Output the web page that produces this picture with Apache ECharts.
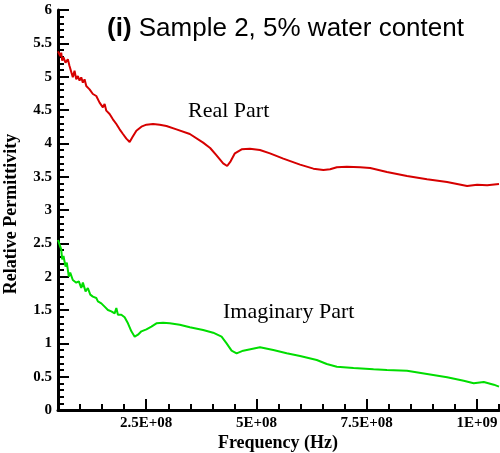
<!DOCTYPE html>
<html>
<head>
<meta charset="utf-8">
<script src="https://cdn.jsdelivr.net/npm/echarts@6/dist/echarts.min.js"></script>
<style>html,body{margin:0;padding:0;background:#fff}#c{width:500px;height:453px}</style>
</head>
<body>
<div id="c"></div>
<script>
// Frequency in MHz (axis labels shown in Hz)
const realFreq = [50,55.0,57.3,59.5,62.5,67.0,72.3,76.1,80.0,83.6,87.5,91.4,95.0,98.9,102.7,106.4,110.2,114.1,121.6,129.1,136.8,144.3,148.2,151.8,155.7,159.5,167.0,174.5,182.3,189.8,197.3,205.0,212.5,218.6,227.7,239.1,250.5,265.5,280.7,295.9,318.6,348.9,379.1,395,409.5,424.5,433.6,441.4,451.1,466.4,485.2,507.9,530.7,560.9,598.9,629.1,651.8,667.0,682.3,705.0,735.2,757.9,795.9,841.4,886.8,932.3,977.7,1000.4,1023.2,1050];
const realVal  = [5.38,5.31,5.36,5.24,5.29,5.21,5.26,5.16,5.19,4.99,5.09,4.96,5.01,4.94,4.99,4.91,4.96,4.86,4.81,4.74,4.71,4.61,4.64,4.54,4.59,4.49,4.44,4.36,4.29,4.21,4.14,4.07,4.02,4.09,4.19,4.25,4.28,4.29,4.28,4.26,4.21,4.14,4.01,3.93,3.82,3.70,3.66,3.73,3.85,3.91,3.92,3.90,3.85,3.77,3.68,3.62,3.60,3.61,3.64,3.65,3.64,3.63,3.57,3.51,3.46,3.42,3.36,3.38,3.37,3.39];
const imagFreq = [50,57.3,59.5,62.5,67.0,70.0,74.5,77.7,83.6,91.4,97.3,102.7,106.4,112.5,117.7,123.2,129.1,136.8,140.5,148.2,155.7,163.2,170.9,178.4,182.3,185.9,193.6,201.1,208.6,216.4,223.9,231.4,239.1,250.5,261.8,273.2,288.2,303.4,326.1,348.9,379.1,401.8,420.9,432.3,443.6,455.0,470.0,508.0,538.2,568.6,598.9,636.8,659.5,682.3,720.0,765.5,795.9,841.4,886.8,932.3,970.0,992.7,1015.5,1038.2,1050];
const imagVal  = [2.55,2.41,2.26,2.31,2.15,2.21,2.00,2.06,1.95,1.91,1.93,1.83,1.91,1.78,1.83,1.73,1.70,1.68,1.63,1.60,1.55,1.50,1.48,1.45,1.53,1.43,1.43,1.39,1.30,1.18,1.10,1.13,1.18,1.21,1.25,1.30,1.31,1.30,1.28,1.24,1.20,1.16,1.10,1.00,0.89,0.85,0.89,0.94,0.90,0.85,0.81,0.75,0.69,0.65,0.63,0.61,0.60,0.59,0.54,0.49,0.44,0.40,0.42,0.38,0.35];
const xMajorTicks = [250,500,750,1000];
const xTickLabels = ['2.5E+08','5E+08','7.5E+08','1E+09'];
const yMinorTicks = [0.1,0.2,0.3,0.4,0.6,0.7,0.8,0.9,1.1,1.2,1.3,1.4,1.6,1.7,1.8,1.9,2.1,2.2,2.3,2.4,2.6,2.7,2.8,2.9,3.1,3.2,3.3,3.4,3.6,3.7,3.8,3.9,4.1,4.2,4.3,4.4,4.6,4.7,4.8,4.9,5.1,5.2,5.3,5.4,5.6,5.7,5.8,5.9];
const titleText = 'Sample 2, 5% water content';
const seriesNames = ['Real Part','Imaginary Part'];
const axisNames = ['Frequency (Hz)','Relative Permittivity'];

function xLabel(v){
  const i = xMajorTicks.indexOf(v);
  return i >= 0 ? xTickLabels[i] : '';
}
const serif = 'Liberation Serif, Times New Roman, serif';
const axisFont = {fontFamily: serif, fontWeight:'bold', fontSize:15, color:'#000'};
const chart = echarts.init(document.getElementById('c'));
chart.setOption({
  animation:false,
  title:{
    text:'{b|(i)} ' + titleText,
    left:102, top:11,
    textStyle:{fontFamily:'Liberation Sans, Arial, sans-serif', fontSize:26, fontWeight:'normal', color:'#000',
      rich:{b:{fontFamily:'Liberation Sans, Arial, sans-serif', fontSize:26, fontWeight:'bold', color:'#000'}}}
  },
  grid:{left:58, right:1, top:10, bottom:43, containLabel:false, outerBoundsMode:'none'},
  xAxis:[{
    type:'value', min:50, max:1050, interval:50,
    axisLine:{show:true, onZero:false, lineStyle:{color:'#000', width:3}},
    axisTick:{show:true, inside:true, length:6, lineStyle:{color:'#000', width:2}},
    axisLabel:Object.assign({margin:6, formatter:xLabel}, axisFont),
    splitLine:{show:false}
  },{
    type:'value', min:50, max:1050, position:'bottom',
    axisLine:{show:false, onZero:false},
    axisTick:{show:true, inside:true, length:11, customValues:xMajorTicks, lineStyle:{color:'#000', width:2}},
    axisLabel:{show:false},
    splitLine:{show:false}
  }],
  yAxis:[{
    type:'value', min:0, max:6, interval:0.5,
    axisLine:{show:true, onZero:false, lineStyle:{color:'#000', width:3}},
    axisTick:{show:true, inside:true, length:11, lineStyle:{color:'#000', width:2}},
    axisLabel:Object.assign({margin:6}, axisFont),
    splitLine:{show:false}
  },{
    type:'value', min:0, max:6, position:'left',
    axisLine:{show:false, onZero:false},
    axisTick:{show:true, inside:true, length:6, customValues:yMinorTicks, lineStyle:{color:'#000', width:2}},
    axisLabel:{show:false},
    splitLine:{show:false}
  }],
  series:[{
    type:'line', showSymbol:false, symbol:'none',
    data: realFreq.map((f,i)=>[f, realVal[i]]),
    lineStyle:{color:'#d60000', width:2}
  },{
    type:'line', showSymbol:false, symbol:'none',
    data: imagFreq.map((f,i)=>[f, imagVal[i]]),
    lineStyle:{color:'#00dd00', width:2}
  }],
  graphic:[
    {type:'text', left:188, top:100, style:{text:seriesNames[0], font:'22px Liberation Serif', fill:'#000'}},
    {type:'text', left:223, top:301, style:{text:seriesNames[1], font:'22px Liberation Serif', fill:'#000'}},
    {type:'text', x:278, y:443, style:{text:axisNames[0], font:'bold 18px Liberation Serif', fill:'#000', align:'center', verticalAlign:'middle'}},
    {type:'text', x:11, y:214, rotation:Math.PI/2, style:{text:axisNames[1], font:'bold 18px Liberation Serif', fill:'#000', align:'center', verticalAlign:'middle'}}
  ]
});
</script>
</body>
</html>
